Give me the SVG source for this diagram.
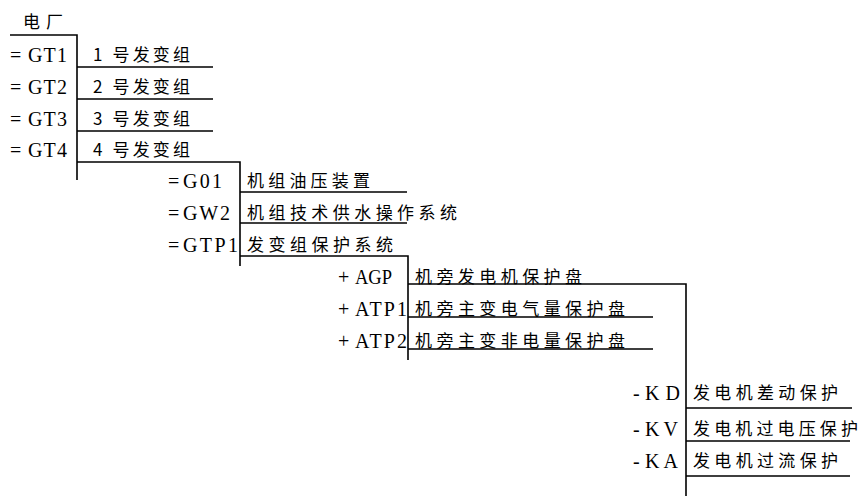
<svg xmlns="http://www.w3.org/2000/svg" width="863" height="496" viewBox="0 0 863 496">
<style>
.lat{font-family:"Liberation Serif","Times New Roman",serif;font-size:20px;fill:#000}
.cjk{font-family:"Noto Sans CJK SC","Noto Sans CJK JP",sans-serif;font-size:17px;fill:#000}
.ln{stroke:#000;stroke-width:1.6;fill:none}
</style>
<rect width="863" height="496" fill="#fff"/>
<g id="connectors">
<path class="ln" d="M10 35H77V180"/>
<path class="ln" d="M77 67H213M77 99H213M77 131H213M77 162H240V266"/>
<path class="ln" d="M240 192H407M240 223H407M240 256H408V360"/>
<path class="ln" d="M408 284H686V496M408 317H653M408 349H653"/>
<path class="ln" d="M686 408H852M686 441H850M686 476H850"/>
</g>
<g id="plant"><text class="cjk" x="23" y="28" textLength="40" lengthAdjust="spacing">电厂</text></g>
<g id="GT1"><text class="lat" x="10" y="62">=<tspan x="28" textLength="39" lengthAdjust="spacing">GT1</tspan></text><text class="cjk" x="93" y="61" textLength="97" lengthAdjust="spacing">1 号发变组</text></g>
<g id="GT2"><text class="lat" x="10" y="94">=<tspan x="28" textLength="39" lengthAdjust="spacing">GT2</tspan></text><text class="cjk" x="93" y="93" textLength="97" lengthAdjust="spacing">2 号发变组</text></g>
<g id="GT3"><text class="lat" x="10" y="126">=<tspan x="28" textLength="39" lengthAdjust="spacing">GT3</tspan></text><text class="cjk" x="93" y="125" textLength="97" lengthAdjust="spacing">3 号发变组</text></g>
<g id="GT4"><text class="lat" x="10" y="157">=<tspan x="28" textLength="39" lengthAdjust="spacing">GT4</tspan></text><text class="cjk" x="93" y="156" textLength="97" lengthAdjust="spacing">4 号发变组</text></g>
<g id="G01"><text class="lat" x="168" y="188">=<tspan x="183" textLength="39" lengthAdjust="spacing">G01</tspan></text><text class="cjk" x="247" y="187" textLength="123" lengthAdjust="spacing">机组油压装置</text></g>
<g id="GW2"><text class="lat" x="168" y="220">=<tspan x="183" textLength="47" lengthAdjust="spacing">GW2</tspan></text><text class="cjk" x="247" y="219" textLength="210" lengthAdjust="spacing">机组技术供水操作系统</text></g>
<g id="GTP1"><text class="lat" x="168" y="252">=<tspan x="183" textLength="55" lengthAdjust="spacing">GTP1</tspan></text><text class="cjk" x="247" y="251" textLength="146" lengthAdjust="spacing">发变组保护系统</text></g>
<g id="AGP"><text class="lat" x="338" y="284">+<tspan x="355" textLength="37" lengthAdjust="spacingAndGlyphs">AGP</tspan></text><text class="cjk" x="415" y="283" textLength="167" lengthAdjust="spacing">机旁发电机保护盘</text></g>
<g id="ATP1"><text class="lat" x="338" y="316">+<tspan x="355" textLength="52" lengthAdjust="spacing">ATP1</tspan></text><text class="cjk" x="415" y="315" textLength="210" lengthAdjust="spacing">机旁主变电气量保护盘</text></g>
<g id="ATP2"><text class="lat" x="338" y="348">+<tspan x="355" textLength="52" lengthAdjust="spacing">ATP2</tspan></text><text class="cjk" x="415" y="347" textLength="210" lengthAdjust="spacing">机旁主变非电量保护盘</text></g>
<g id="KD"><text class="lat" x="633" y="400">-<tspan x="645" textLength="35" lengthAdjust="spacing">KD</tspan></text><text class="cjk" x="693" y="399" textLength="145" lengthAdjust="spacing">发电机差动保护</text></g>
<g id="KV"><text class="lat" x="633" y="436">-<tspan x="645" textLength="33" lengthAdjust="spacing">KV</tspan></text><text class="cjk" x="693" y="435" textLength="165" lengthAdjust="spacing">发电机过电压保护</text></g>
<g id="KA"><text class="lat" x="633" y="468">-<tspan x="645" textLength="33" lengthAdjust="spacing">KA</tspan></text><text class="cjk" x="693" y="467" textLength="145" lengthAdjust="spacing">发电机过流保护</text></g>
</svg>
